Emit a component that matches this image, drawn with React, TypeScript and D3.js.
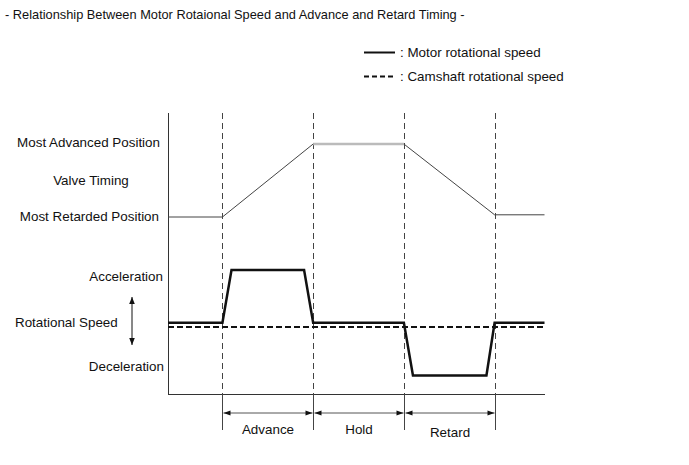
import React from "react";
import * as d3 from "d3";

const phaseBounds = [0.6, 1.6, 2.6, 3.6];
const phaseLabels = ["Advance", "Hold", "Retard"];
const valveT = [0, 0.6, 1.6, 2.6, 3.6, 4.15];
const valveV = [0, 0, 1, 1, 0.03, 0.03];
const motorT = [0, 0.6, 0.7, 1.5, 1.6, 2.6, 2.7, 3.51, 3.6, 4.15];
const motorV = [0, 0, 1, 1, 0, 0, -1, -1, 0, 0];
const camT = [0, 4.15];
const camV = [-0.08, -0.08];

const W = 689, H = 465;
const FONT = "'Liberation Sans', Arial, sans-serif";

export default function App() {
  const x = d3.scaleLinear().domain([0, 4.15]).range([168, 544.5]);
  const yValve = d3.scaleLinear().domain([0, 1]).range([217, 144]);
  const ySpeed = d3.scaleLinear().domain([-1, 1]).range([375.5, 270]);
  const line = (ys: d3.ScaleLinear<number, number>) =>
    d3.line<[number, number]>().x((d) => x(d[0])).y((d) => ys(d[1]));
  const valvePts: [number, number][] = valveT.map((t, i) => [t, valveV[i]]);
  const motorPts: [number, number][] = motorT.map((t, i) => [t, motorV[i]]);
  const camPts: [number, number][] = camT.map((t, i) => [t, camV[i]]);
  const lv = line(yValve);
  const ls = line(ySpeed);
  const baseY = 394;
  const arrowY = 413;
  const fs = 13.4;
  return (
    <svg width={W} height={H} style={{ position: "absolute", left: 0, top: 0, background: "#fff" }} fontFamily={FONT} fontSize={fs}>
      <defs>
        <marker id="ah" viewBox="0 0 10 10" refX="10" refY="5" markerWidth="10" markerHeight="7" orient="auto-start-reverse" markerUnits="userSpaceOnUse">
          <path d="M0,1.5 L10,5 L0,8.5 z" fill="#111" />
        </marker>
        <marker id="ah2" viewBox="0 0 10 10" refX="10" refY="5" markerWidth="7" markerHeight="9" orient="auto-start-reverse" markerUnits="userSpaceOnUse">
          <path d="M0,1 L10,5 L0,9 z" fill="#111" />
        </marker>
      </defs>
      <rect width={W} height={H} fill="#fff" />
      <text x={5} y={19} fill="#111" fontSize={12.8}>- Relationship Between Motor Rotaional Speed and Advance and Retard Timing -</text>
      {/* legend */}
      <line x1={364} x2={395} y1={52.5} y2={52.5} stroke="#111" strokeWidth={2} />
      <text x={400} y={57} fill="#111">: Motor rotational speed</text>
      <line x1={364} x2={395} y1={76.5} y2={76.5} stroke="#111" strokeWidth={2} strokeDasharray="5,3" />
      <text x={400} y={81} fill="#111">: Camshaft rotational speed</text>
      {/* left labels */}
      <g fill="#111">
        <text x={160} y={147} textAnchor="end">Most Advanced Position</text>
        <text x={91} y={185} textAnchor="middle">Valve Timing</text>
        <text x={159} y={221} textAnchor="end">Most Retarded Position</text>
        <text x={163} y={281} textAnchor="end">Acceleration</text>
        <text x={15} y={327}>Rotational Speed</text>
        <text x={164} y={371} textAnchor="end">Deceleration</text>
      </g>
      <line x1={132} x2={132} y1={297} y2={345} stroke="#111" strokeWidth={1} markerStart="url(#ah2)" markerEnd="url(#ah2)" />
      {/* axes */}
      <line x1={168.5} x2={168.5} y1={113} y2={baseY} stroke="#333" strokeWidth={1} />
      <line x1={168} x2={545} y1={baseY + 0.5} y2={baseY + 0.5} stroke="#333" strokeWidth={1} />
      {/* phase lines */}
      {phaseBounds.map((t, i) => (
        <g key={i}>
          <line x1={Math.round(x(t)) + 0.5} x2={Math.round(x(t)) + 0.5} y1={113} y2={baseY} stroke="#444" strokeWidth={1} strokeDasharray="6,4" />
          <line x1={Math.round(x(t)) + 0.5} x2={Math.round(x(t)) + 0.5} y1={baseY} y2={430} stroke="#444" strokeWidth={1} />
        </g>
      ))}
      {phaseLabels.map((lab, i) => {
        const a = Math.round(x(phaseBounds[i])) + 0.5;
        const b = Math.round(x(phaseBounds[i + 1])) + 0.5;
        return (
          <g key={lab}>
            <line x1={a + 1} x2={b - 1} y1={arrowY} y2={arrowY} stroke="#555" strokeWidth={1} markerStart="url(#ah)" markerEnd="url(#ah)" />
            <text x={(a + b) / 2} y={lab === "Retard" ? 437 : 434} textAnchor="middle" fill="#111">{lab}</text>
          </g>
        );
      })}
      {/* valve timing */}
      <path d={lv(valvePts) || ""} fill="none" stroke="#444" strokeWidth={1} />
      <path d={lv(valvePts.slice(2, 4)) || ""} fill="none" stroke="#bbb" strokeWidth={2.5} />
      {/* speeds */}
      <path d={ls(camPts) || ""} fill="none" stroke="#111" strokeWidth={2} strokeDasharray="6,3" />
      <path d={ls(motorPts) || ""} fill="none" stroke="#111" strokeWidth={2.5} strokeLinejoin="miter" />
    </svg>
  );
}
